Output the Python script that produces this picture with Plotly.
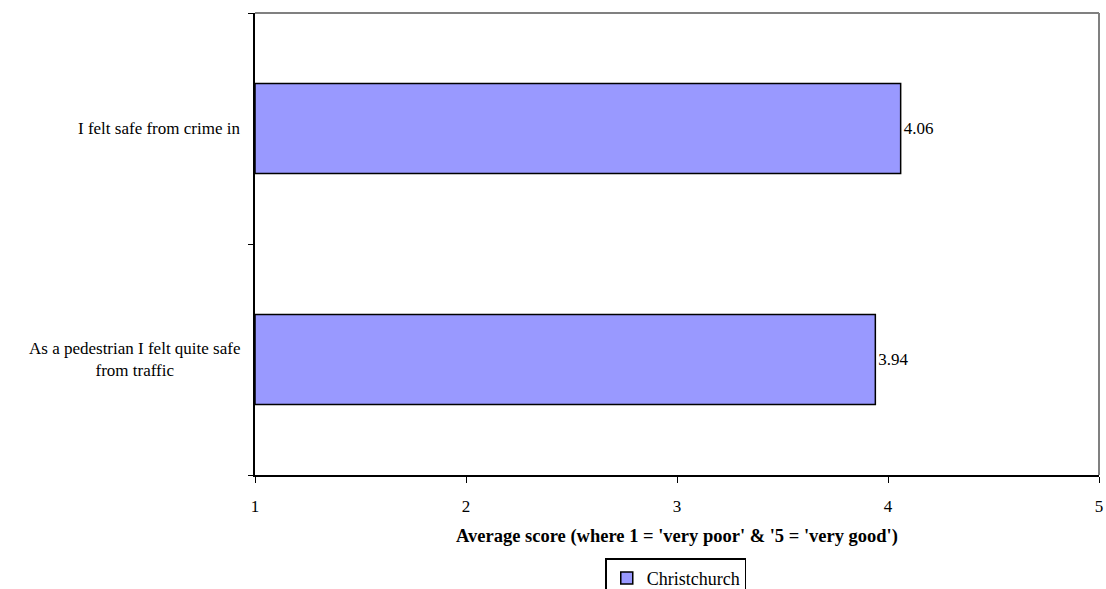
import plotly.graph_objects as go

categories = ["As a pedestrian I felt quite safe<br>from traffic", "I felt safe from crime in"]
values = [3.94, 4.06]
value_labels = ["3.94", "4.06"]
series_name = "Christchurch"
x_ticks = [1, 2, 3, 4, 5]
x_title = "Average score (where 1 = 'very poor' & '5 = 'very good')"
axis_min = 1

FONT = "Liberation Serif, Times New Roman, serif"
FS = 17

fig = go.Figure()
fig.add_trace(go.Bar(
    y=categories, x=[v - axis_min for v in values], base=axis_min, orientation="h",
    name=series_name,
    marker=dict(color="#9999FF", line=dict(color="black", width=1.5)),
    text=value_labels, textposition="outside", cliponaxis=False,
    textfont=dict(family=FONT, size=FS, color="black"),
    showlegend=True,
))

for c in categories:
    fig.add_annotation(x=0, xref="paper", y=c, yref="y", text=c, showarrow=False,
                       xanchor="right", xshift=-13, align="center",
                       font=dict(family=FONT, size=FS, color="black"))

fig.update_layout(
    width=1106, height=589,
    margin=dict(l=255, r=7, t=13, b=114, autoexpand=False),
    paper_bgcolor="white", plot_bgcolor="white",
    bargap=0.61,
    font=dict(family=FONT, size=FS, color="black"),
    xaxis=dict(range=[1, 5], tickvals=x_ticks, ticks="outside", ticklen=6, tickcolor="black",
               showline=True, linecolor="black", linewidth=2, showgrid=False, zeroline=False,
               ticklabelstandoff=9, ticklabeloverflow="allow", automargin=False,
               title=dict(text="<b>" + x_title + "</b>", standoff=14,
                          font=dict(family=FONT, size=18.5, color="black")),
               tickfont=dict(family=FONT, size=FS, color="black")),
    yaxis=dict(type="category", range=[-0.5, 1.5], showticklabels=False, ticks="outside",
               tickson="boundaries", ticklen=5, tickcolor="black", showline=True,
               linecolor="black", linewidth=2, showgrid=False, zeroline=False, automargin=False),
    legend=dict(orientation="h", xref="container", yref="container", x=0.611, y=0.018,
                xanchor="center", yanchor="middle", bordercolor="black", borderwidth=1.5,
                itemwidth=30, font=dict(family=FONT, size=18, color="black"), bgcolor="white"),
    shapes=[
        dict(type="line", xref="paper", yref="paper", x0=0, x1=1, y0=1, y1=1,
             line=dict(color="#808080", width=2)),
        dict(type="line", xref="paper", yref="paper", x0=1, x1=1, y0=0, y1=1,
             line=dict(color="#808080", width=2)),
    ],
)

fig.write_html(
    "out.html",
    config={"displayModeBar": False},
    post_script="document.body.style.margin='0';document.body.style.overflow='hidden';",
)
